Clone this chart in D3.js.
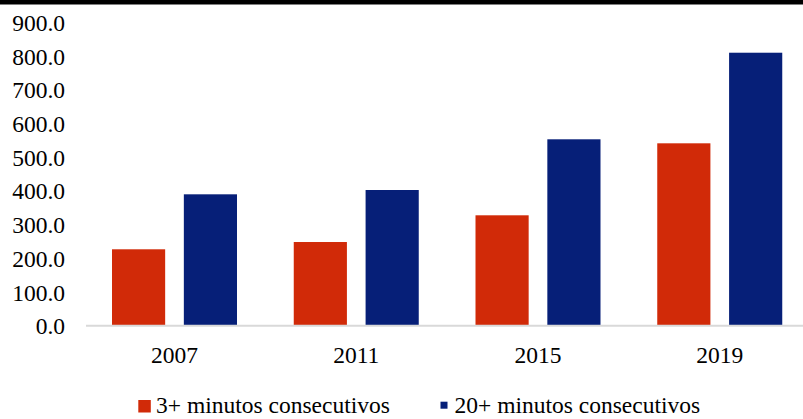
<!DOCTYPE html>
<html>
<head>
<meta charset="utf-8">
<script src="https://cdn.jsdelivr.net/npm/d3@7"></script>
<style>
  html, body { margin: 0; padding: 0; background: #fff; }
  svg { display: block; font-family: "Liberation Serif", "Times New Roman", serif; }
</style>
</head>
<body>
<div id="chart"></div>
<script>
// data
var years = ["2007", "2011", "2015", "2019"];
var series = ["3+ minutos consecutivos", "20+ minutos consecutivos"];
var tres = [226.8, 248.4, 327.7, 541.4];
var veinte = [390.0, 402.8, 553.3, 810.3];
var yTicks = [0, 100, 200, 300, 400, 500, 600, 700, 800, 900];
var colors = ["#d12a08", "#061f78"];

var W = 803, H = 419, FS = 23.5;
var svg = d3.select("#chart").append("svg").attr("width", W).attr("height", H);

// black rule on top
svg.append("rect").attr("x", 0).attr("y", 0).attr("width", W).attr("height", 4.5).attr("fill", "#000");

var y = d3.scaleLinear().domain([0, 900]).range([325.7, 22.5]);
var x0 = d3.scaleBand().domain(years).range([84, 811]).paddingInner(0).paddingOuter(0);
var x1 = d3.scaleBand().domain(series).range([28, 153]).paddingInner(0.26);

// y axis labels (no line)
var yAxis = d3.axisLeft(y).tickValues(yTicks).tickFormat(d3.format(".1f")).tickSize(0).tickPadding(0);
var gy = svg.append("g").attr("transform", "translate(65,0)").call(yAxis);
gy.select(".domain").remove();
gy.selectAll("text").attr("font-size", FS).attr("fill", "#000")
  .attr("font-family", "'Liberation Serif', serif").attr("dy", "0.34em");

// bars
var rows = years.map(function(yr, i){ return {year: yr, vals: [tres[i], veinte[i]]}; });
var groups = svg.append("g").selectAll("g").data(rows).join("g")
  .attr("transform", function(d){ return "translate(" + x0(d.year) + ",0)"; });
groups.selectAll("rect").data(function(d){ return d.vals.map(function(v, j){ return {s: series[j], v: v, j: j}; }); })
  .join("rect")
  .attr("x", function(d){ return x1(d.s); })
  .attr("width", x1.bandwidth())
  .attr("y", function(d){ return y(d.v); })
  .attr("height", function(d){ return y(0) - y(d.v); })
  .attr("fill", function(d){ return colors[d.j]; });

// x axis baseline + labels
var xAxis = d3.axisBottom(x0).tickSize(0).tickPadding(0);
var gx = svg.append("g").attr("transform", "translate(0," + y(0) + ")").call(xAxis);
gx.select(".domain").attr("stroke", "#d9d9d9").attr("stroke-width", 2).attr("d", "M86,0H" + W);
gx.selectAll(".tick text").attr("font-size", FS).attr("fill", "#000")
  .attr("font-family", "'Liberation Serif', serif").attr("dy", null).attr("y", 37.5);
gx.selectAll(".tick").attr("transform", function(d){ return "translate(" + (x0(d) + 90.5) + ",0)"; });

// legend
var leg = [
  {label: series[0], sx: 138.3, sy: 400, ss: 12.5, tx: 156},
  {label: series[1], sx: 440.5, sy: 401.7, ss: 7, tx: 454.5}
];
var lg = svg.append("g").selectAll("g").data(leg).join("g");
lg.append("rect").attr("x", function(d){ return d.sx; }).attr("y", function(d){ return d.sy; })
  .attr("width", function(d){ return d.ss; }).attr("height", function(d){ return d.ss; })
  .attr("fill", function(d, i){ return colors[i]; });
lg.append("text").attr("x", function(d){ return d.tx; }).attr("y", 413)
  .attr("font-size", FS).attr("fill", "#000").text(function(d){ return d.label; });
</script>
</body>
</html>
